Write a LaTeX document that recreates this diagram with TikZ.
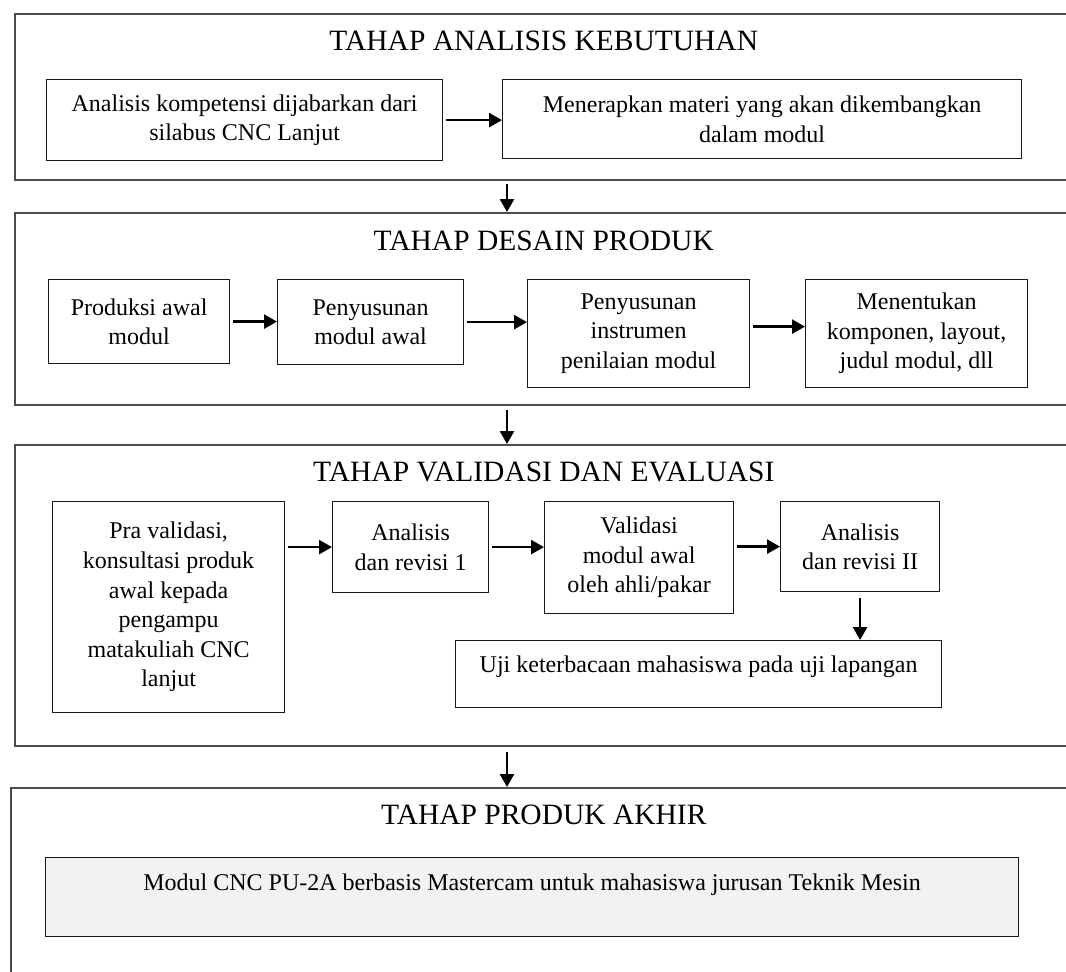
\documentclass[tikz,border=0pt]{standalone}
\usepackage{fontspec}
\setmainfont{Liberation Serif}
\usetikzlibrary{arrows.meta}

\begin{document}
\begin{tikzpicture}[x=1pt, y=-1pt,
    stage/.style={draw=black!70, line width=1.6pt, anchor=north west, inner sep=0pt},
    stagetitle/.style={font=\fontsize{29.5}{34}\selectfont, inner sep=0pt},
    stepbox/.style={draw=black!90, line width=1.2pt, anchor=north west, inner sep=0pt,
        align=center, font=\fontsize{24}{29.6}\selectfont},
    flow/.style={-{Triangle[length=13pt, width=14pt]}, line width=2.6pt, shorten <=3pt}]
    \clip (0,0) rectangle (1066,972);
    \fill[white] (0,0) rectangle (1066,972);

    % the four stages
    \node[stage, minimum width=1058pt, minimum height=166pt] (stageA) at (14,13) {};
    \node[stage, minimum width=1058pt, minimum height=192pt] (stageB) at (14,212) {};
    \node[stage, minimum width=1058pt, minimum height=301pt] (stageC) at (14,444) {};
    \node[stage, minimum width=1066pt, minimum height=213pt] (stageD) at (10,787) {};
    \node[stagetitle] (titleA) at ([yshift=-28pt]stageA.north) {TAHAP ANALISIS KEBUTUHAN};
    \node[stagetitle] (titleB) at ([yshift=-29pt]stageB.north) {TAHAP DESAIN PRODUK};
    \node[stagetitle] (titleC) at ([yshift=-28pt]stageC.north) {TAHAP VALIDASI DAN EVALUASI};
    \node[stagetitle] (titleD) at ([yshift=-28pt]stageD.north) {TAHAP PRODUK AKHIR};

    % analisis kebutuhan
    \node[stepbox, minimum width=396pt, minimum height=81pt] (a1) at (46,79) {Analisis kompetensi dijabarkan dari\\silabus CNC Lanjut};
    \node[stepbox, minimum width=519pt, minimum height=79pt] (a2) at (502,79) {Menerapkan materi yang akan dikembangkan\\dalam modul};
    \draw[flow] (a1) -- (a1 -| a2.west);

    % desain produk
    \node[stepbox, minimum width=181pt, minimum height=84pt] (b1) at (48,279) {Produksi awal\\modul};
    \node[stepbox, minimum width=186pt, minimum height=85pt] (b2) at (277,279) {Penyusunan\\modul awal};
    \node[stepbox, minimum width=222pt, minimum height=108pt] (b3) at (527,279) {Penyusunan\\instrumen\\penilaian modul};
    \node[stepbox, minimum width=222pt, minimum height=108pt] (b4) at (805,279) {Menentukan\\komponen, layout,\\judul modul, dll};
    \draw[flow] (b1) -- (b1 -| b2.west);
    \draw[flow] (b2) -- (b2 -| b3.west);
    \draw[flow] ([yshift=7pt]b3.east) -- ([yshift=7pt]b4.west);

    % validasi dan evaluasi
    \node[stepbox, minimum width=232pt, minimum height=211pt] (c1) at (52,501) {Pra validasi,\\konsultasi produk\\awal kepada\\pengampu\\matakuliah CNC\\lanjut};
    \node[stepbox, minimum width=156pt, minimum height=91pt] (c2) at (332,501) {Analisis\\dan revisi 1};
    \node[stepbox, minimum width=189pt, minimum height=112pt] (c3) at (544,501) {Validasi\\modul awal\\oleh ahli/pakar};
    \node[stepbox, minimum width=159pt, minimum height=90pt] (c4) at (780,501) {Analisis\\dan revisi II};
    \node[stepbox, minimum width=486pt, minimum height=67pt, text height=32pt, text depth=35pt] (c5) at (455,640) {Uji keterbacaan mahasiswa pada uji lapangan};
    \draw[flow] (c1.east |- c2) -- (c2);
    \draw[flow] (c2) -- (c2 -| c3.west);
    \draw[flow] (c3.east |- c4) -- (c4);
    \draw[flow, shorten <=6pt] (c4.south) -- (c4.south |- c5.north);

    % produk akhir
    \node[stepbox, fill=black!5, minimum width=973pt, minimum height=79pt, text height=33pt, text depth=46pt] (d1) at (45,857) {Modul CNC PU-2A berbasis Mastercam untuk mahasiswa jurusan Teknik Mesin};

    % between the stages
    \coordinate (spine) at (507,0);
    \draw[flow] (stageA.south -| spine) -- (stageB.north -| spine);
    \draw[flow, shorten <=4pt] (stageB.south -| spine) -- (stageC.north -| spine);
    \draw[flow, shorten <=5pt] (stageC.south -| spine) -- (stageD.north -| spine);
\end{tikzpicture}
\end{document}
